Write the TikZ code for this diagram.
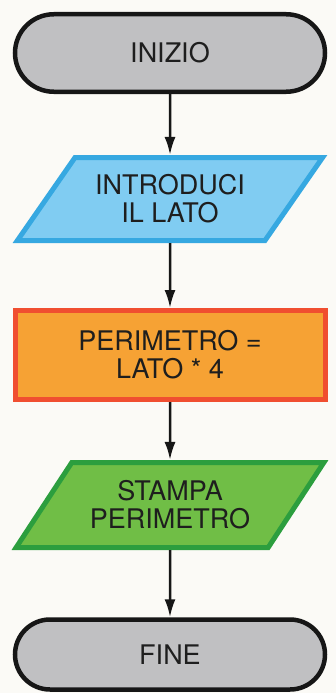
\documentclass[tikz,border=0pt]{standalone}
\usepackage{fontspec}
\setmainfont{TeX Gyre Heros}
\usetikzlibrary{shapes.misc,shapes.geometric,arrows.meta}
\definecolor{paper}{RGB}{251,250,246}
\definecolor{termfill}{RGB}{192,192,194}
\definecolor{termline}{RGB}{22,22,22}
\definecolor{bluefill}{RGB}{128,204,242}
\definecolor{blueline}{RGB}{54,168,225}
\definecolor{orfill}{RGB}{246,162,52}
\definecolor{orline}{RGB}{240,78,48}
\definecolor{grfill}{RGB}{112,190,70}
\definecolor{grline}{RGB}{44,158,62}
\definecolor{txt}{RGB}{30,30,30}
\tikzset{
  lbl/.style={font=\fontsize{27}{28}\selectfont, text=txt, align=center, inner sep=0pt},
  term/.style={lbl, rounded rectangle, draw=termline, fill=termfill, line width=4.5pt, minimum width=310pt},
  iobox/.style={lbl, trapezium, trapezium stretches=true, trapezium left angle=47, trapezium right angle=133, line width=5pt},
  procbox/.style={lbl, rectangle, draw=orline, fill=orfill, line width=5pt, minimum width=310pt, minimum height=89pt},
  arr/.style={draw=termline, line width=2.5pt, -{Latex[length=18pt,width=11pt]}}
}
\begin{document}
\begin{tikzpicture}[x=1pt,y=-1pt]
\fill[paper] (0,0) rectangle (336,693);
\useasboundingbox (0,0) rectangle (336,693);
\node[term, minimum height=77.5pt] (start) at (170,53) {INIZIO};
\node[iobox, draw=blueline, fill=bluefill, minimum width=306pt, minimum height=83pt] (input) at (170,199) {INTRODUCI\\IL LATO};
\node[procbox] (calc) at (170,355) {PERIMETRO =\\LATO * 4};
\node[iobox, draw=grline, fill=grfill, minimum width=308pt, minimum height=85pt] (output) at (170,505) {STAMPA\\PERIMETRO};
\node[term, minimum height=70pt] (stop) at (170,654.5) {FINE};
\draw[arr] (start.south) -- (input.north);
\draw[arr] (input.south) -- (calc.north);
\draw[arr] (calc.south) -- (output.north);
\draw[arr] (output.south) -- (stop.north);
\end{tikzpicture}
\end{document}
